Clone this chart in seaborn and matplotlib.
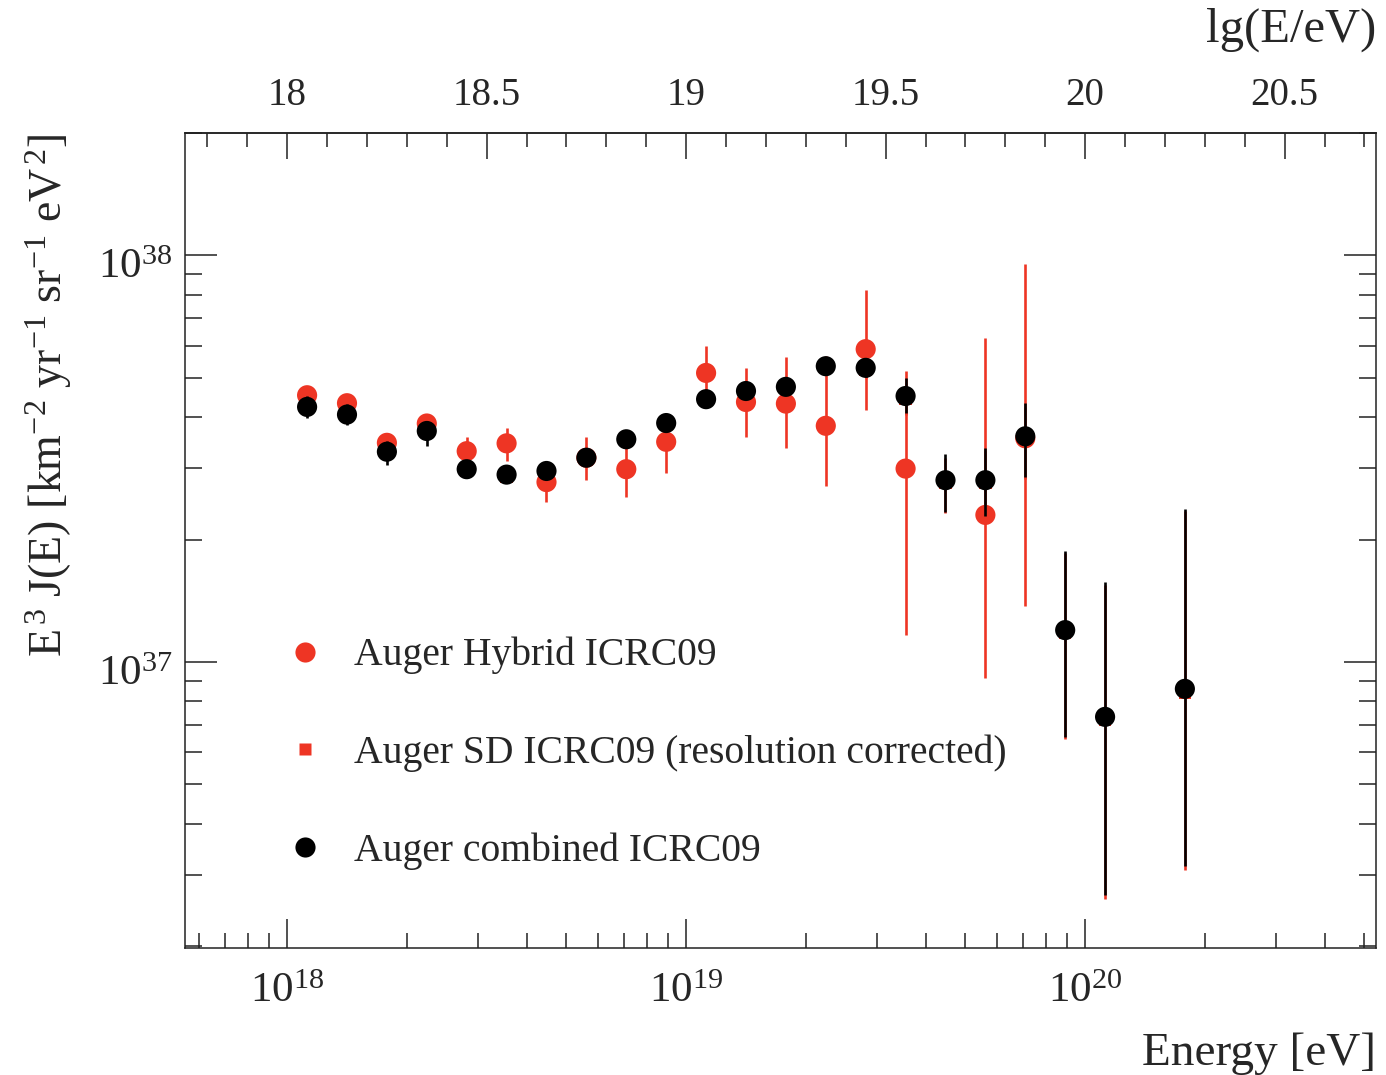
import numpy as np
import pandas as pd
import matplotlib
matplotlib.use("Agg")
import matplotlib.pyplot as plt
import matplotlib.transforms as mtransforms
import seaborn as sns
from matplotlib.ticker import FixedLocator, MultipleLocator, LogLocator, NullFormatter
from matplotlib.lines import Line2D

# ---------------- data (flux values in units of 1e37) ----------------
lg_hybrid = [18.05, 18.15, 18.25, 18.35, 18.45, 18.55, 18.65, 18.75, 18.85, 18.95,
             19.05, 19.15, 19.25, 19.35, 19.45, 19.55, 19.75, 19.85]
j_hybrid = [4.53, 4.33, 3.46, 3.86, 3.30, 3.45, 2.77, 3.18, 2.98, 3.48,
            5.14, 4.36, 4.32, 3.81, 5.88, 2.99, 2.30, 3.55]
lo_hybrid = [4.30, 4.13, 3.28, 3.68, 3.08, 3.12, 2.47, 2.80, 2.54, 2.92,
             4.45, 3.58, 3.36, 2.71, 4.16, 1.165, 0.914, 1.37]
hi_hybrid = [4.73, 4.53, 3.66, 4.07, 3.58, 3.77, 3.05, 3.58, 3.45, 3.90,
             5.98, 5.30, 5.61, 5.65, 8.24, 5.20, 6.25, 9.50]

lg_sd = [18.45, 18.55, 18.65, 18.75, 18.85, 18.95, 19.05, 19.15, 19.25, 19.35,
         19.45, 19.55, 19.65, 19.75, 19.85, 19.95, 20.05, 20.25]
j_sd = [2.95, 2.86, 2.93, 3.15, 3.50, 3.84, 4.40, 4.60, 4.72, 5.30,
        5.22, 4.45, 2.76, 2.76, 3.52, 1.18, 0.72, 0.84]
lo_sd = [2.87, 2.79, 2.86, 3.07, 3.42, 3.76, 4.28, 4.48, 4.58, 5.14,
         5.00, 4.05, 2.32, 2.27, 2.82, 0.645, 0.262, 0.308]
hi_sd = [3.03, 2.93, 3.00, 3.23, 3.58, 3.92, 4.52, 4.72, 4.86, 5.46,
         5.44, 4.85, 3.18, 3.30, 4.25, 1.85, 1.55, 2.35]

lg_comb = [18.05, 18.15, 18.25, 18.35, 18.45, 18.55, 18.65, 18.75, 18.85, 18.95,
           19.05, 19.15, 19.25, 19.35, 19.45, 19.55, 19.65, 19.75, 19.85, 19.95,
           20.05, 20.25]
j_comb = [4.24, 4.06, 3.29, 3.70, 2.98, 2.89, 2.95, 3.18, 3.53, 3.87,
          4.43, 4.64, 4.75, 5.34, 5.29, 4.51, 2.80, 2.80, 3.59, 1.198,
          0.733, 0.859]
lo_comb = [3.99, 3.82, 3.05, 3.39, 2.90, 2.82, 2.88, 3.10, 3.45, 3.79,
           4.30, 4.52, 4.62, 5.18, 5.02, 4.09, 2.34, 2.29, 2.85, 0.655,
           0.268, 0.315]
hi_comb = [4.50, 4.30, 3.50, 3.92, 3.06, 2.96, 3.02, 3.26, 3.62, 3.96,
           4.58, 4.77, 4.90, 5.52, 5.55, 4.99, 3.24, 3.36, 4.34, 1.88,
           1.57, 2.38]

top_ticks = [18, 18.5, 19, 19.5, 20, 20.5]
top_tick_labels = ["18", "18.5", "19", "19.5", "20", "20.5"]
bottom_ticks = [1e18, 1e19, 1e20]
bottom_tick_labels = [r"$10^{18}$", r"$10^{19}$", r"$10^{20}$"]
y_ticks = [1e37, 1e38]
y_tick_labels = [r"$10^{37}$", r"$10^{38}$"]

labels = ["Auger Hybrid ICRC09", "Auger SD ICRC09 (resolution corrected)",
          "Auger combined ICRC09"]
x_title = "Energy [eV]"
top_title = "lg(E/eV)"
y_title = r"E$^{\,3}$ J(E) [km$^{-2}$ yr$^{-1}$ sr$^{-1}$ eV$^{\,2}$]"

RED = "#ee3524"
BLACK = "#000000"

# ---------------- style ----------------
sns.set_theme(style="ticks")
plt.rcParams["font.family"] = ["Liberation Serif", "DejaVu Serif"]
plt.rcParams["mathtext.fontset"] = "custom"
plt.rcParams["mathtext.rm"] = "Liberation Serif"
plt.rcParams["mathtext.it"] = "Liberation Serif:italic"
plt.rcParams["mathtext.bf"] = "Liberation Serif:bold"
plt.rcParams["axes.linewidth"] = 1.1
plt.rcParams["axes.edgecolor"] = "#222222"


def frame(lg, val, lo, hi, name):
    e = 10.0 ** np.asarray(lg)
    s = 1e37
    return pd.DataFrame({"E": e, "J": np.asarray(val) * s,
                         "lo": np.asarray(lo) * s, "hi": np.asarray(hi) * s,
                         "set": name})


df_h = frame(lg_hybrid, j_hybrid, lo_hybrid, hi_hybrid, labels[0])
df_s = frame(lg_sd, j_sd, lo_sd, hi_sd, labels[1])
df_c = frame(lg_comb, j_comb, lo_comb, hi_comb, labels[2])

fig = plt.figure(figsize=(13.86, 10.75), dpi=100)
ax = fig.add_axes([185 / 1386, 1 - 948 / 1075, 1191 / 1386, 815 / 1075])

ax.set_xscale("log")
ax.set_yscale("log")
ax.set_xlim(10 ** 17.744, 10 ** 20.729)
ax.set_ylim(1.98e36, 2.0e38)

ms = 14.5
lw_err = 1.9

# hybrid
ax.vlines(df_h["E"], df_h["lo"], df_h["hi"], color=RED, lw=lw_err, zorder=2)
sns.scatterplot(data=df_h, x="E", y="J", ax=ax, color=RED, marker="o",
                s=ms ** 2, edgecolor="none", linewidth=0, zorder=3, legend=False)
# SD
ax.vlines(df_s["E"], df_s["lo"], df_s["hi"], color=RED, lw=lw_err, zorder=4)
sns.scatterplot(data=df_s, x="E", y="J", ax=ax, color=RED, marker="s",
                s=9 ** 2, edgecolor="none", linewidth=0, zorder=5, legend=False)
# combined
ax.vlines(df_c["E"], df_c["lo"], df_c["hi"], color=BLACK, lw=lw_err, zorder=6)
sns.scatterplot(data=df_c, x="E", y="J", ax=ax, color=BLACK, marker="o",
                s=ms ** 2, edgecolor="none", linewidth=0, zorder=7, legend=False)

# ticks bottom / left / right
ax.xaxis.set_major_locator(FixedLocator(bottom_ticks))
ax.set_xticklabels(bottom_tick_labels)
ax.xaxis.set_minor_locator(LogLocator(base=10, subs=np.arange(2, 10)))
ax.xaxis.set_minor_formatter(NullFormatter())
ax.yaxis.set_major_locator(FixedLocator(y_ticks))
ax.set_yticklabels(y_tick_labels)
ax.yaxis.set_minor_locator(LogLocator(base=10, subs=np.arange(2, 10)))
ax.yaxis.set_minor_formatter(NullFormatter())

ax.tick_params(axis="x", which="both", direction="in", top=False, bottom=True,
               labelsize=31, pad=18, color="#222222", width=1.1)
ax.tick_params(axis="y", which="both", direction="in", left=True, right=True,
               labelsize=31, pad=9, color="#222222", width=1.1)
ax.tick_params(axis="x", which="major", length=21)
ax.tick_params(axis="x", which="minor", length=11)
ax.tick_params(axis="y", which="major", length=23)
ax.tick_params(axis="y", which="minor", length=12)

# shift y tick labels slightly downward, as in the reference
offset = mtransforms.ScaledTranslation(0, -8 / 100, fig.dpi_scale_trans)
for lab in ax.get_yticklabels():
    lab.set_transform(lab.get_transform() + offset)

# top secondary axis in lg(E/eV)
sec = ax.secondary_xaxis("top", functions=(lambda x: np.log10(np.clip(x, 1e-300, None)),
                                            lambda x: 10.0 ** x))
sec.xaxis.set_major_locator(FixedLocator(top_ticks))
sec.set_xticklabels(top_tick_labels)
sec.xaxis.set_minor_locator(MultipleLocator(0.1))
sec.xaxis.set_minor_formatter(NullFormatter())
sec.tick_params(axis="x", which="both", direction="in", labelsize=28, pad=14,
                color="#222222", width=1.1)
sec.tick_params(axis="x", which="major", length=19)
sec.tick_params(axis="x", which="minor", length=10)

# titles
ax.set_xlabel(x_title, fontsize=34, ha="right")
ax.xaxis.set_label_coords(1.0, -0.104)
ax.set_ylabel(y_title, fontsize=33, ha="right")
ax.yaxis.set_label_coords(-0.093, 1.0)
fig.text(1376 / 1386, 1 - 30 / 1075, top_title, fontsize=35, ha="right", va="center")

# legend
handles = [
    Line2D([], [], ls="none", marker="o", ms=14.5, color=RED, mec="none"),
    Line2D([], [], ls="none", marker="s", ms=9, color=RED, mec="none"),
    Line2D([], [], ls="none", marker="o", ms=14.5, color=BLACK, mec="none"),
]
ax.legend(handles, labels, loc="upper left",
          bbox_to_anchor=((285 - 185) / 1191, (948 - 637) / 815),
          frameon=False, fontsize=28.5, handlelength=1.0, handletextpad=0.75,
          labelspacing=1.52, borderpad=0, borderaxespad=0)

fig.savefig("out.png", dpi=100)
